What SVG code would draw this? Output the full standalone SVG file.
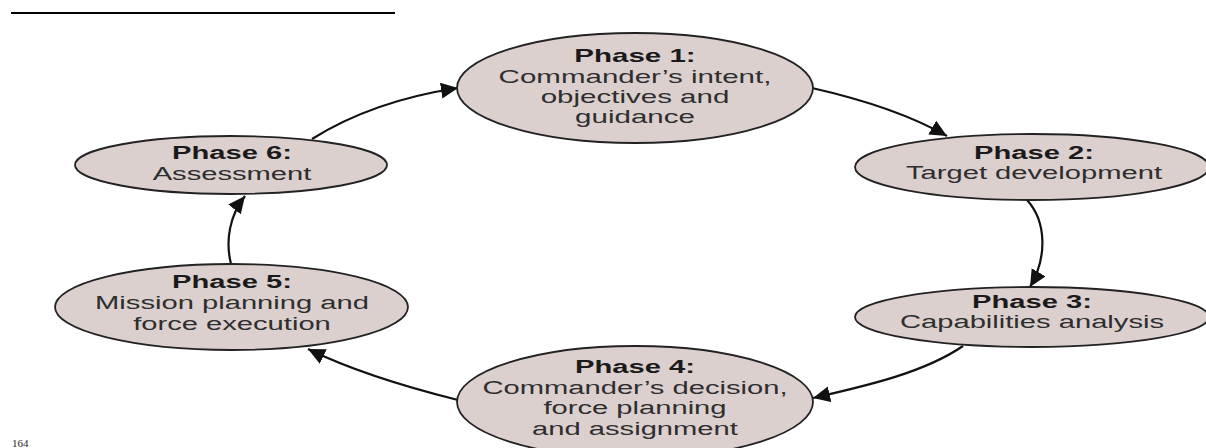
<svg xmlns="http://www.w3.org/2000/svg" width="1206" height="448" viewBox="0 0 1206 448">
<style>
.node ellipse{fill:#dbd0ce;stroke:#222;stroke-width:1.8}
.node text{font-family:"Liberation Sans",Arial,sans-serif;font-size:18px;text-anchor:middle}
.node .b{font-weight:bold;fill:#1a1a1a}
.node .r{fill:#2e2e2e}
.conn path{fill:none;stroke:#111;stroke-width:2.2;marker-end:url(#ah)}
</style>
<defs>
<marker id="ah" markerUnits="userSpaceOnUse" markerWidth="20" markerHeight="18" refX="17" refY="8" orient="auto">
<path d="M0,0 L17,8 L0,16 Z" fill="#111"/>
</marker>
</defs>
<rect width="1206" height="448" fill="#fff"/>
<line x1="11" y1="13" x2="395" y2="13" stroke="#000" stroke-width="2.2"/>
<g class="conn">
<path d="M812,88 C865,100 910,115 947,136"/>
<path d="M1027,200 C1047,222 1047,258 1030,287"/>
<path d="M963,346 C925,372 870,385 813,398"/>
<path d="M458,400 C410,388 355,372 308,349"/>
<path d="M231,264 C225,240 230,215 245,196"/>
<path d="M312,139 C355,112 405,96 458,88"/>
</g>
<g id="phase1" class="node">
<ellipse cx="635" cy="88" rx="178" ry="55"/>
<g transform="translate(635,0) scale(1.64,1)">
<text class="b" x="0" y="62">Phase 1:</text>
<text class="r" x="0" y="83">Commander’s intent,</text>
<text class="r" x="0" y="103">objectives and</text>
<text class="r" x="0" y="123">guidance</text>
</g>
</g>
<g id="phase2" class="node">
<ellipse cx="1032" cy="167" rx="177" ry="33"/>
<g transform="translate(1034,0) scale(1.62,1)">
<text class="b" x="0" y="159">Phase 2:</text>
<text class="r" x="0" y="179">Target development</text>
</g>
</g>
<g id="phase3" class="node">
<ellipse cx="1032" cy="317" rx="177" ry="30"/>
<g transform="translate(1032,0) scale(1.62,1)">
<text class="b" x="0" y="308">Phase 3:</text>
<text class="r" x="0" y="328">Capabilities analysis</text>
</g>
</g>
<g id="phase4" class="node">
<ellipse cx="635" cy="402" rx="178" ry="56"/>
<g transform="translate(635,0) scale(1.62,1)">
<text class="b" x="0" y="373">Phase 4:</text>
<text class="r" x="0" y="394">Commander’s decision,</text>
<text class="r" x="0" y="414">force planning</text>
<text class="r" x="0" y="435">and assignment</text>
</g>
</g>
<g id="phase5" class="node">
<ellipse cx="231.5" cy="307" rx="176.5" ry="43"/>
<g transform="translate(232,0) scale(1.62,1)">
<text class="b" x="0" y="288">Phase 5:</text>
<text class="r" x="0" y="309">Mission planning and</text>
<text class="r" x="0" y="330">force execution</text>
</g>
</g>
<g id="phase6" class="node">
<ellipse cx="231" cy="165" rx="156" ry="29"/>
<g transform="translate(232,0) scale(1.62,1)">
<text class="b" x="0" y="159">Phase 6:</text>
<text class="r" x="0" y="180">Assessment</text>
</g>
</g>
<text x="12" y="447" font-family="'Liberation Serif',serif" font-size="11" fill="#222">164</text>
</svg>
